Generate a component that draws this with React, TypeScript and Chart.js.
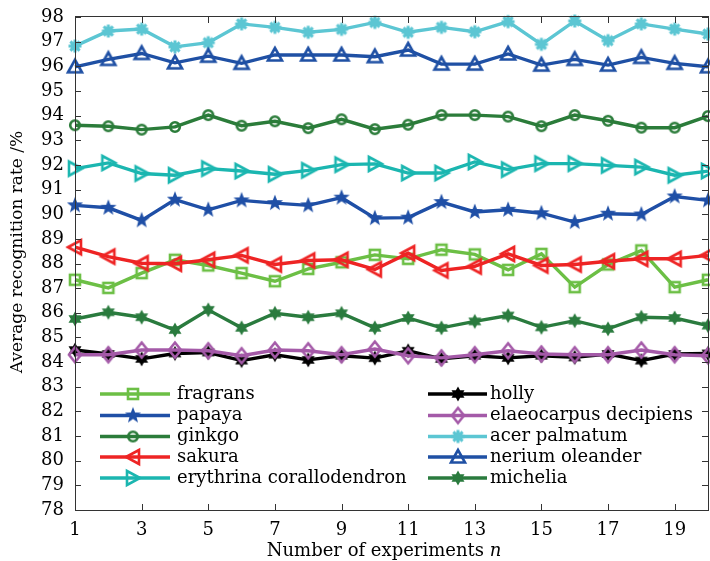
import React, { useEffect, useRef } from 'react';
import { Chart, registerables } from 'chart.js';

Chart.register(...registerables);

// ---------- data ----------
const experiments = [1, 2, 3, 4, 5, 6, 7, 8, 9, 10, 11, 12, 13, 14, 15, 16, 17, 18, 19, 20];
const xTickValues = [1, 3, 5, 7, 9, 11, 13, 15, 17, 19];
const yTickValues = [78, 79, 80, 81, 82, 83, 84, 85, 86, 87, 88, 89, 90, 91, 92, 93, 94, 95, 96, 97, 98];

const seriesNames = [
  'fragrans', 'papaya', 'ginkgo', 'sakura', 'erythrina corallodendron',
  'holly', 'elaeocarpus decipiens', 'acer palmatum', 'nerium oleander', 'michelia',
];

const fragrans = [87.34, 87.01, 87.61, 88.15, 87.92, 87.61, 87.28, 87.78, 88.05, 88.35, 88.19, 88.56, 88.37, 87.74, 88.39, 87.04, 87.96, 88.53, 87.04, 87.34];
const papaya = [90.36, 90.26, 89.75, 90.59, 90.18, 90.56, 90.45, 90.36, 90.67, 89.84, 89.86, 90.49, 90.09, 90.18, 90.04, 89.68, 90.02, 89.99, 90.72, 90.56];
const ginkgo = [93.61, 93.57, 93.43, 93.54, 94.02, 93.59, 93.77, 93.49, 93.85, 93.45, 93.63, 94.02, 94.02, 93.96, 93.57, 94.02, 93.79, 93.51, 93.51, 93.98];
const sakura = [88.66, 88.28, 88.01, 87.99, 88.15, 88.33, 87.96, 88.12, 88.15, 87.76, 88.42, 87.72, 87.88, 88.39, 87.92, 87.96, 88.09, 88.19, 88.19, 88.33];
const erythrina = [91.85, 92.08, 91.65, 91.58, 91.85, 91.75, 91.62, 91.78, 92.01, 92.04, 91.67, 91.67, 92.12, 91.81, 92.05, 92.05, 91.98, 91.91, 91.58, 91.75];
const holly = [84.49, 84.33, 84.13, 84.35, 84.39, 84.06, 84.30, 84.09, 84.26, 84.16, 84.46, 84.13, 84.26, 84.17, 84.26, 84.19, 84.33, 84.06, 84.33, 84.35];
const elaeocarpus = [84.30, 84.30, 84.49, 84.49, 84.46, 84.26, 84.49, 84.46, 84.30, 84.53, 84.26, 84.17, 84.30, 84.46, 84.33, 84.30, 84.30, 84.49, 84.30, 84.26];
const acerPalmatum = [96.82, 97.43, 97.51, 96.79, 96.96, 97.72, 97.58, 97.38, 97.50, 97.78, 97.38, 97.58, 97.40, 97.81, 96.89, 97.84, 97.04, 97.72, 97.51, 97.31];
const neriumOleander = [95.98, 96.28, 96.52, 96.14, 96.41, 96.12, 96.46, 96.46, 96.46, 96.39, 96.66, 96.09, 96.09, 96.50, 96.05, 96.28, 96.05, 96.36, 96.12, 95.98];
const michelia = [85.75, 86.02, 85.82, 85.30, 86.12, 85.39, 85.98, 85.82, 85.98, 85.39, 85.79, 85.39, 85.65, 85.89, 85.41, 85.68, 85.35, 85.82, 85.79, 85.48];

const seriesValues = [fragrans, papaya, ginkgo, sakura, erythrina, holly, elaeocarpus, acerPalmatum, neriumOleander, michelia];
const seriesColors = ['#6cbf45', '#1f4fa6', '#2b7c3a', '#ee2424', '#1bb6b0', '#000000', '#a45aa8', '#5cc6d3', '#1f50a4', '#2a7b3e'];
const seriesMarkers = ['square', 'star5', 'circle', 'triLeft', 'triRight', 'hexagram', 'diamond', 'asterisk', 'triUp', 'hexagram'];

const FONT = "'DejaVu Serif', serif";

function makeMarker(kind: string, color: string): HTMLCanvasElement {
  const s = 24;
  const c = document.createElement('canvas');
  c.width = s;
  c.height = s;
  const g = c.getContext('2d') as CanvasRenderingContext2D;
  g.translate(s / 2, s / 2);
  g.strokeStyle = color;
  g.fillStyle = color;
  g.lineWidth = 2.6;
  g.lineJoin = 'miter';
  const poly = (pts: number[][], fill: boolean) => {
    g.beginPath();
    pts.forEach((p, i) => (i === 0 ? g.moveTo(p[0], p[1]) : g.lineTo(p[0], p[1])));
    g.closePath();
    if (fill) g.fill();
    else g.stroke();
  };
  const star = (n: number, ro: number, ri: number) => {
    const pts: number[][] = [];
    for (let i = 0; i < 2 * n; i++) {
      const a = -Math.PI / 2 + (i * Math.PI) / n;
      const r = i % 2 === 0 ? ro : ri;
      pts.push([r * Math.cos(a), r * Math.sin(a)]);
    }
    poly(pts, true);
  };
  switch (kind) {
    case 'square':
      g.strokeRect(-5, -5, 10, 10);
      break;
    case 'circle':
      g.beginPath();
      g.arc(0, 0, 4.8, 0, Math.PI * 2);
      g.stroke();
      break;
    case 'triLeft':
      poly([[-7, 0], [6, -7], [6, 7]], false);
      break;
    case 'triRight':
      poly([[7, 0], [-6, -7], [-6, 7]], false);
      break;
    case 'triUp':
      poly([[0, -7], [-7, 5.5], [7, 5.5]], false);
      break;
    case 'diamond':
      poly([[0, -7.5], [6, 0], [0, 7.5], [-6, 0]], false);
      break;
    case 'star5':
      star(5, 8.5, 3.6);
      break;
    case 'hexagram':
      star(6, 7.5, 4.2);
      break;
    case 'asterisk':
      g.lineWidth = 3;
      for (let i = 0; i < 4; i++) {
        const a = (i * Math.PI) / 4;
        g.beginPath();
        g.moveTo(-6.5 * Math.cos(a), -6.5 * Math.sin(a));
        g.lineTo(6.5 * Math.cos(a), 6.5 * Math.sin(a));
        g.stroke();
      }
      g.beginPath();
      g.arc(0, 0, 4.5, 0, Math.PI * 2);
      g.fill();
      break;
  }
  return c;
}

export default function App() {
  const ref = useRef<HTMLCanvasElement | null>(null);

  useEffect(() => {
    if (!ref.current) return;
    const markers = seriesNames.map((_, i) => makeMarker(seriesMarkers[i], seriesColors[i]));

    const framePlugin = {
      id: 'frame',
      afterDatasetsDraw(chart: any) {
        const { ctx, chartArea } = chart;
        const { left, right, top, bottom } = chartArea;
        const xs = chart.scales.x;
        const ys = chart.scales.y;
        ctx.save();
        // box
        ctx.strokeStyle = '#333333';
        ctx.lineWidth = 1;
        ctx.strokeRect(Math.round(left) + 0.5, Math.round(top) - 0.5, Math.round(right - left), Math.round(bottom - top) + 1);
        // inward ticks
        ctx.beginPath();
        xTickValues.forEach((v) => {
          const px = Math.round(xs.getPixelForValue(v)) + 0.5;
          ctx.moveTo(px, bottom);
          ctx.lineTo(px, bottom - 6);
          ctx.moveTo(px, top);
          ctx.lineTo(px, top + 6);
        });
        yTickValues.forEach((v) => {
          const py = Math.round(ys.getPixelForValue(v)) + 0.5;
          ctx.moveTo(left, py);
          ctx.lineTo(left + 6, py);
          ctx.moveTo(right, py);
          ctx.lineTo(right - 6, py);
        });
        ctx.stroke();

        // legend
        const rows = [394, 415.5, 436.5, 457, 478];
        const cols = [
          { x0: 100, x1: 170, mx: 133, tx: 177 },
          { x0: 428, x1: 487, mx: 458, tx: 490 },
        ];
        ctx.font = `18px ${FONT}`;
        ctx.textBaseline = 'middle';
        ctx.textAlign = 'left';
        seriesNames.forEach((name, i) => {
          const col = cols[i < 5 ? 0 : 1];
          const y = rows[i % 5];
          ctx.strokeStyle = seriesColors[i];
          ctx.lineWidth = 3.4;
          ctx.beginPath();
          ctx.moveTo(col.x0, y);
          ctx.lineTo(col.x1, y);
          ctx.stroke();
          const m = markers[i];
          ctx.drawImage(m, col.mx - m.width / 2, y - m.height / 2);
          ctx.fillStyle = '#000';
          ctx.fillText(name, col.tx, y);
        });

        // x title
        const part1 = 'Number of experiments ';
        ctx.font = `18px ${FONT}`;
        const w1 = ctx.measureText(part1).width;
        ctx.font = `italic 18px ${FONT}`;
        const w2 = ctx.measureText('n').width;
        const startX = 384 - (w1 + w2) / 2;
        ctx.textBaseline = 'middle';
        ctx.font = `18px ${FONT}`;
        ctx.fillText(part1, startX, 551);
        ctx.font = `italic 18px ${FONT}`;
        ctx.fillText('n', startX + w1, 551);

        // y title
        ctx.translate(18, 252);
        ctx.rotate(-Math.PI / 2);
        ctx.font = `17px ${FONT}`;
        ctx.textAlign = 'center';
        ctx.fillText('Average recognition rate /%', 0, 0);
        ctx.restore();
      },
    };

    const chart = new Chart(ref.current, {
      type: 'line',
      data: {
        datasets: seriesNames.map((name, i) => ({
          label: name,
          data: experiments.map((x, j) => ({ x, y: seriesValues[i][j] })),
          borderColor: seriesColors[i],
          backgroundColor: seriesColors[i],
          borderWidth: 3.4,
          pointStyle: markers[i] as any,
          pointRadius: 8,
          tension: 0,
          fill: false,
          clip: false,
          order: -i,
        })),
      },
      options: {
        responsive: false,
        animation: false,
        layout: { autoPadding: false, padding: { top: 17, right: 2, left: 0, bottom: 0 } },
        plugins: { legend: { display: false }, tooltip: { enabled: false }, title: { display: false } },
        scales: {
          x: {
            type: 'linear',
            min: 1,
            max: 20,
            afterBuildTicks: (scale: any) => {
              scale.ticks = xTickValues.map((v) => ({ value: v }));
            },
            afterFit: (scale: any) => {
              scale.height = 51;
              scale.paddingLeft = 0;
              scale.paddingRight = 0;
            },
            grid: { display: false, drawTicks: false },
            border: { display: false },
            ticks: { color: '#000', font: { family: FONT, size: 18 }, padding: 10, maxRotation: 0, autoSkip: false },
          },
          y: {
            type: 'linear',
            min: 78,
            max: 98,
            afterBuildTicks: (scale: any) => {
              scale.ticks = yTickValues.map((v) => ({ value: v }));
            },
            afterFit: (scale: any) => {
              scale.width = 75;
              scale.paddingTop = 0;
              scale.paddingBottom = 0;
            },
            grid: { display: false, drawTicks: false },
            border: { display: false },
            ticks: { color: '#000', font: { family: FONT, size: 18 }, padding: 11, autoSkip: false },
          },
        },
      } as any,
      plugins: [framePlugin],
    });
    return () => chart.destroy();
  }, []);

  return (
    <div style={{ position: 'absolute', left: 0, top: 0, width: 710, height: 561, background: '#fff' }}>
      <canvas ref={ref} width={710} height={561} />
    </div>
  );
}
